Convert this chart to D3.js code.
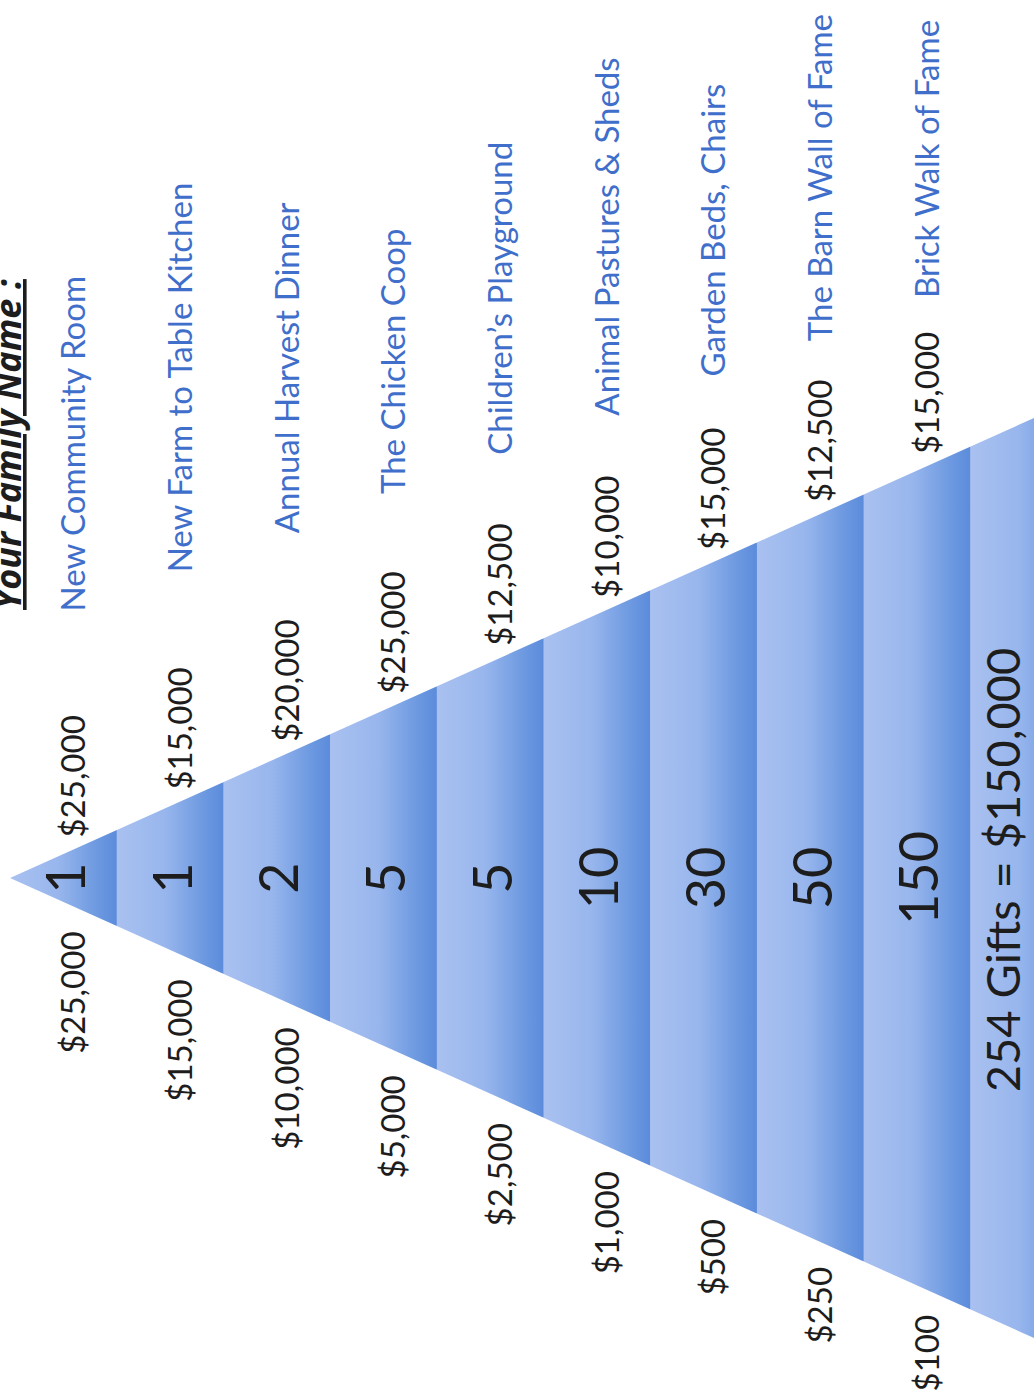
<!DOCTYPE html>
<meta charset="utf-8">
<script src="https://d3js.org/d3.v7.min.js"></script>
<style>
  body { margin: 0; background: #fff; }
  svg text { font-family: Lato, "Noto Sans", sans-serif; }
</style>
<div id="chart"></div>
<script>
// gift pyramid data, one entry per level (top level first)
var giftCounts  = [1, 1, 2, 5, 5, 10, 30, 50, 150];
var giftAmounts = ["$25,000", "$15,000", "$10,000", "$5,000", "$2,500", "$1,000", "$500", "$250", "$100"];
var levelTotals = ["$25,000", "$15,000", "$20,000", "$25,000", "$12,500", "$10,000", "$15,000", "$12,500", "$15,000"];
var namingItems = ["New Community Room", "New Farm to Table Kitchen", "Annual Harvest Dinner", "The Chicken Coop",
                   "Children\u2019s Playground", "Animal Pastures & Sheds", "Garden Beds, Chairs",
                   "The Barn Wall of Fame", "Brick Walk of Fame"];
var summaryText = "254 Gifts = $150,000";
var titleText   = "Your Family Name :";

var width = 1034, height = 1394;
var apexX = 10, cy = 878, step = 106.7;
var nLevels = giftCounts.length + 1;   // + the summary band at the base

var svg = d3.select("#chart").append("svg")
  .attr("width", width).attr("height", height);

svg.append("rect").attr("width", width).attr("height", height).attr("fill", "#fff");

// band position along the pyramid axis (pyramid lies on its side, apex at left)
var x = d3.scaleBand()
  .domain(d3.range(nLevels))
  .range([apexX, apexX + nLevels * step]);

// half width of the triangle at a given x
var half = d3.scaleLinear().domain([apexX, 1034]).range([0, 460]);

var xEnd = x.range()[1];

var defs = svg.append("defs");
var grad = defs.append("linearGradient").attr("id", "bandGrad")
  .attr("x1", "0%").attr("x2", "100%").attr("y1", "0%").attr("y2", "0%");
[["0%", "#a9c1f0"], ["45%", "#98b6ed"], ["80%", "#6e9ae1"], ["100%", "#5b8bdb"]].forEach(function(s) {
  grad.append("stop").attr("offset", s[0]).attr("stop-color", s[1]);
});

defs.append("clipPath").attr("id", "tri")
  .append("path")
  .attr("d", d3.line()([[apexX, cy], [xEnd, cy - half(xEnd)], [xEnd, cy + half(xEnd)]]) + "Z");

svg.append("g").attr("clip-path", "url(#tri)")
  .selectAll("rect")
  .data(d3.range(nLevels))
  .enter()
  .append("rect")
    .attr("x", function(d) { return x(d); })
    .attr("y", function(d) { return cy - half(x(d) + x.bandwidth()); })
    .attr("width", x.bandwidth() + 0.5)
    .attr("height", function(d) { return 2 * half(x(d) + x.bandwidth()); })
    .attr("fill", "url(#bandGrad)");

var rows = d3.range(giftCounts.length);
function xc(i) { return x(i) + x.bandwidth() / 2; }

// number of gifts, in the middle of each band
svg.append("g").selectAll("text")
  .data(rows).enter().append("text")
    .attr("transform", function(i) { return "translate(" + (xc(i) + 2) + "," + cy + ") rotate(-90)"; })
    .attr("text-anchor", "middle")
    .attr("dy", "0.36em")
    .attr("font-size", "54px")
    .attr("fill", "#1d1d1d")
    .text(function(i) { return giftCounts[i]; });

// gift amount, below the lower edge
svg.append("g").selectAll("text")
  .data(rows).enter().append("text")
    .attr("transform", function(i) {
      var px = xc(i) + 10;
      return "translate(" + px + "," + (cy + half(px) + 25) + ") rotate(-90)";
    })
    .attr("text-anchor", "end")
    .attr("dy", "0.36em")
    .attr("font-size", "33px")
    .attr("fill", "#1d1d1d")
    .text(function(i) { return giftAmounts[i]; });

// level total, above the upper edge
svg.append("g").selectAll("text")
  .data(rows).enter().append("text")
    .attr("transform", function(i) {
      var px = xc(i) + 10;
      return "translate(" + px + "," + (cy - half(px) - 12) + ") rotate(-90)";
    })
    .attr("text-anchor", "start")
    .attr("dy", "0.36em")
    .attr("font-size", "33px")
    .attr("fill", "#1d1d1d")
    .text(function(i) { return levelTotals[i]; });

// naming opportunity, after the total (kept inside the page at the top)
var gap = d3.scaleLinear().domain([0, rows.length - 1]).range([226, 156]);
svg.append("g").selectAll("text")
  .data(rows).enter().append("text")
    .attr("text-anchor", "start")
    .attr("dy", "0.36em")
    .attr("font-size", "33px")
    .attr("fill", "#3f6fcb")
    .text(function(i) { return namingItems[i]; })
    .attr("transform", function(i) {
      var px = xc(i) + 10;
      var y0 = cy - half(px) - 12 - gap(i);
      y0 = Math.max(y0, this.getComputedTextLength() + 14);
      return "translate(" + px + "," + y0 + ") rotate(-90)";
    });

// summary in the base band
svg.append("text")
  .attr("transform", "translate(" + (x(nLevels - 1) + 33) + "," + (cy - 8) + ") rotate(-90)")
  .attr("text-anchor", "middle")
  .attr("dy", "0.36em")
  .attr("font-size", "47px")
  .attr("fill", "#1d1d1d")
  .text(summaryText);

// title, half cut off at the left edge
svg.append("text")
  .attr("transform", "translate(21,610) rotate(-90)")
  .attr("text-anchor", "start")
  .attr("font-size", "36px")
  .attr("font-weight", "bold")
  .attr("font-style", "italic")
  .attr("text-decoration", "underline")
  .attr("fill", "#1d1d1d")
  .style("font-family", "'Open Sans', Lato, sans-serif")
  .text(titleText);
</script>
